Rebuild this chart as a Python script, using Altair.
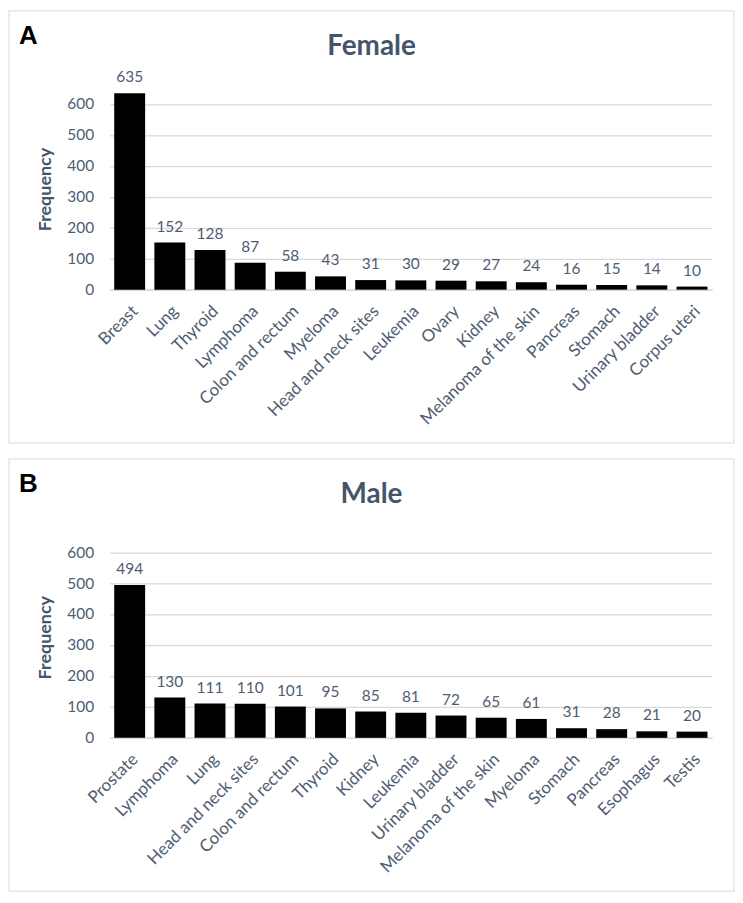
import altair as alt
import pandas as pd

female_sites = ["Breast", "Lung", "Thyroid", "Lymphoma", "Colon and rectum", "Myeloma",
                "Head and neck sites", "Leukemia", "Ovary", "Kidney", "Melanoma of the skin",
                "Pancreas", "Stomach", "Urinary bladder", "Corpus uteri"]
female_counts = [635, 152, 128, 87, 58, 43, 31, 30, 29, 27, 24, 16, 15, 14, 10]

male_sites = ["Prostate", "Lymphoma", "Lung", "Head and neck sites", "Colon and rectum", "Thyroid",
              "Kidney", "Leukemia", "Urinary bladder", "Melanoma of the skin", "Myeloma",
              "Stomach", "Pancreas", "Esophagus", "Testis"]
male_counts = [494, 130, 111, 110, 101, 95, 85, 81, 72, 65, 61, 31, 28, 21, 20]

y_ticks = [0, 100, 200, 300, 400, 500, 600]

TITLE_COLOR = "#44546A"
LABEL_COLOR = "#4F5D72"
GRID_COLOR = "#D9D9D9"
FRAME_COLOR = "#E3E6EA"


def panel(sites, counts, letter, title):
    df = pd.DataFrame({"site": sites, "count": counts})
    base = alt.Chart(df).encode(
        x=alt.X("site:N", sort=sites,
                scale=alt.Scale(paddingInner=0.23, paddingOuter=0.115),
                axis=alt.Axis(title=None, labelAngle=315, labelFontSize=17,
                              labelColor=LABEL_COLOR, domainColor=GRID_COLOR,
                              domainWidth=1.5, ticks=False, labelPadding=13,
                              grid=False, labelFont="Lato")),
        y=alt.Y("count:Q",
                scale=alt.Scale(domain=[0, 650], nice=False),
                axis=alt.Axis(values=y_ticks, title="Frequency", grid=True,
                              gridColor=GRID_COLOR, gridWidth=1.2, domain=False,
                              ticks=False, labelPadding=16, labelFontSize=15.5,
                              labelColor=LABEL_COLOR, labelFont="Lato",
                              titleFont="Lato", titleFontSize=18,
                              titleFontWeight="bold", titleColor=TITLE_COLOR,
                              titlePadding=12)),
    )
    bars = base.mark_bar(color="black")
    labels = base.mark_text(baseline="bottom", dy=-8, fontSize=15.5,
                            font="Lato", color=LABEL_COLOR).encode(text="count:Q")

    one = alt.Data(values=[{"k": 0}])
    frame = alt.Chart(one).mark_rect(fill="white", fillOpacity=0,
                                     stroke=FRAME_COLOR, strokeWidth=1.5).encode(
        x=alt.value(-101), x2=alt.value(627), y=alt.value(-78), y2=alt.value(356))
    letter_t = alt.Chart(one).mark_text(text=letter, font="Liberation Sans",
                                        fontWeight="bold", fontSize=26, color="black",
                                        align="left", baseline="alphabetic").encode(
        x=alt.value(-91), y=alt.value(-45))
    title_t = alt.Chart(one).mark_text(text=title, font="Lato", fontWeight="bold",
                                       fontSize=28, color=TITLE_COLOR,
                                       align="center", baseline="alphabetic").encode(
        x=alt.value(263), y=alt.value(-34))

    return alt.layer(frame, bars, labels, letter_t, title_t).properties(
        width=605, height=202)


chart = alt.vconcat(
    panel(female_sites, female_counts, "A", "Female"),
    panel(male_sites, male_counts, "B", "Male"),
    spacing=14,
).properties(padding=0).configure_view(strokeWidth=0)

chart.save("out.html", embed_options={"renderer": "svg", "actions": False})
